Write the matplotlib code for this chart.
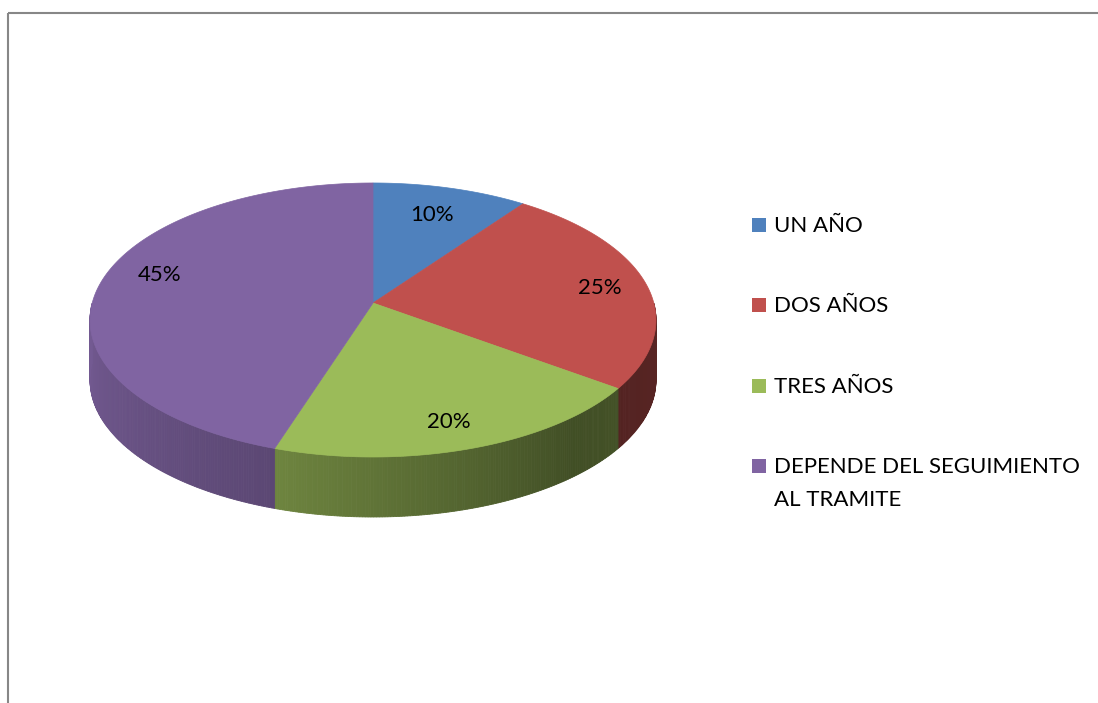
import numpy as np
import matplotlib
matplotlib.use("Agg")
import matplotlib.pyplot as plt
from matplotlib.patches import Polygon, Rectangle
from matplotlib.colors import to_rgb

# ---- data ----
categories = ["UN AÑO", "DOS AÑOS", "TRES AÑOS", "DEPENDE DEL SEGUIMIENTO\nAL TRAMITE"]
values = [10, 25, 20, 45]
labels = ["10%", "25%", "20%", "45%"]
colors = ["#4F81BD", "#C0504D", "#9BBB59", "#8064A2"]

# ---- layout (pixel space) ----
W, H = 1098, 703
cx, cy = 373.0, 303.0      # projected centre of the pie top
A, C = 280.8, 134.9        # horizontal / vertical projected radius
ecc = 0.124                # perspective factor
depth = 60.0
label_pos = [(432, 215), (600, 288), (449, 422), (160, 275)]
FS = 16

plt.rcParams['font.family'] = ['Lato', 'DejaVu Sans']
fig = plt.figure(figsize=(W / 100, H / 100), dpi=100)
ax = fig.add_axes([0, 0, 1, 1])
ax.set_xlim(0, W)
ax.set_ylim(H, 0)
ax.axis('off')

def pt(theta_deg, dy=0.0):
    t = np.radians(theta_deg)
    w = 1 + ecc * np.cos(t)
    return cx + A * np.sin(t) / w, cy - C * np.cos(t) / w + dy

def shade(c, f):
    r, g, bb = to_rgb(c)
    return (r * f, g * f, bb * f)

def side_factor(t):
    return float(np.interp(t, [90, 140, 200, 265], [0.47, 0.42, 0.72, 0.9]))

total = float(sum(values))
bounds = np.concatenate([[0], np.cumsum(values)]) / total * 360.0

# side faces (visible front half)
for i, col in enumerate(colors):
    t0, t1 = max(bounds[i], 90), min(bounds[i + 1], 270)
    if t1 <= t0:
        continue
    ts = np.linspace(t0, t1, max(int((t1 - t0) * 2), 2))
    for k in range(len(ts) - 1):
        f = side_factor(0.5 * (ts[k] + ts[k + 1]))
        p = [pt(ts[k]), pt(ts[k + 1]), pt(ts[k + 1], depth), pt(ts[k], depth)]
        ax.add_patch(Polygon(p, closed=True, facecolor=shade(col, f),
                             edgecolor=shade(col, f), lw=0.6))

# top faces
for i, col in enumerate(colors):
    ts = np.linspace(bounds[i], bounds[i + 1], 200)
    p = [(cx, cy)] + [pt(t) for t in ts]
    ax.add_patch(Polygon(p, closed=True, facecolor=col, edgecolor=col, lw=0.5))

for (x, y), lab in zip(label_pos, labels):
    ax.text(x, y, lab, fontsize=FS, ha='center', va='center', color='black')

# legend
leg_y = [226, 306, 387, 467]
for y, col, cat in zip(leg_y, colors, categories):
    ax.add_patch(Rectangle((752, y - 8), 14, 14, facecolor=col, edgecolor='none'))
    for j, line in enumerate(cat.split("\n")):
        ax.text(774, y + 33 * j, line, fontsize=FS, ha='left', va='center',
                color='black')

# chart border
ax.plot([7.5, 7.5], [H, 12.5], color='#878787', lw=1.5, solid_capstyle='butt')
ax.plot([7.5, W], [12.5, 12.5], color='#878787', lw=1.5, solid_capstyle='butt')

fig.savefig("out.png", dpi=100)
